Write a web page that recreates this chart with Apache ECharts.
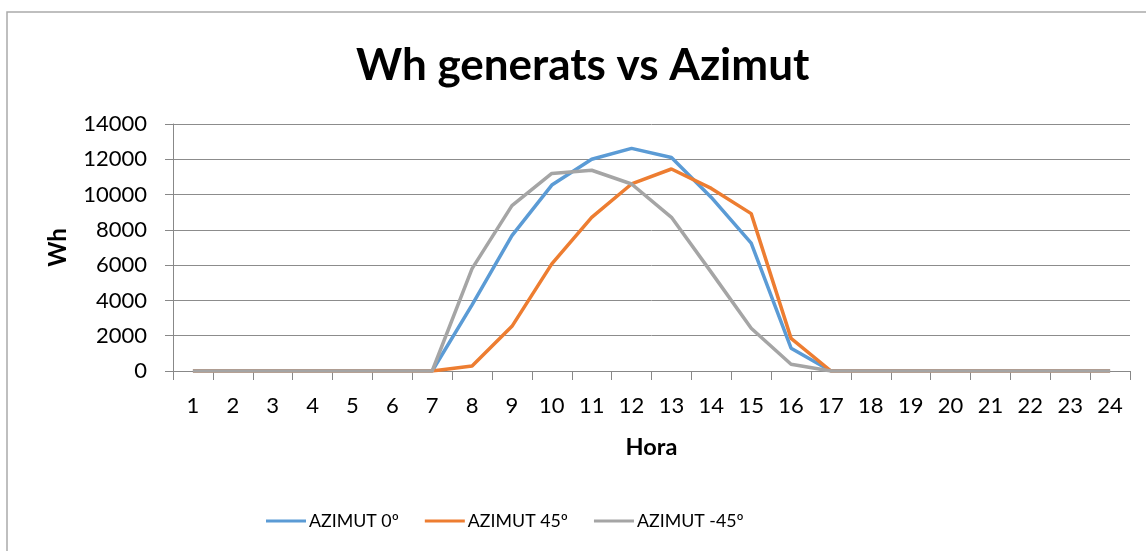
<!DOCTYPE html>
<html>
<head>
<meta charset="utf-8">
<script src="https://cdn.jsdelivr.net/npm/echarts@6/dist/echarts.min.js"></script>
<style>html,body{margin:0;padding:0;background:#fff}#c{width:1146px;height:551px}</style>
</head>
<body>
<div id="c"></div>
<script>
const hours = ['1','2','3','4','5','6','7','8','9','10','11','12','13','14','15','16','17','18','19','20','21','22','23','24'];
const azimut0 =  [0,0,0,0,0,0,0,3750,7670,10540,12000,12620,12100,9840,7250,1290,0,0,0,0,0,0,0,0];
const azimut45 = [0,0,0,0,0,0,0,280,2530,6070,8710,10600,11450,10350,8920,1850,0,0,0,0,0,0,0,0];
const azimutM45 =[0,0,0,0,0,0,0,5800,9370,11200,11380,10600,8710,5590,2420,380,0,0,0,0,0,0,0,0];
const seriesNames = ['AZIMUT 0º','AZIMUT 45º','AZIMUT -45º'];
const colors = ['#5B9BD5','#ED7D31','#A5A5A5'];
const F = 'Lato, "Open Sans", sans-serif';
const chart = echarts.init(document.getElementById('c'));
const mk = (name, data, color) => ({
  name, type:'line', data, symbol:'none', showSymbol:false,
  lineStyle:{color, width:3.5}, itemStyle:{color}, animation:false
});
chart.setOption({
  animation:false,
  title:{text:'Wh generats vs Azimut', left:351, top:39,
    textStyle:{fontFamily:F, fontSize:44, fontWeight:'bold', color:'#000'}},
  graphic:[{type:'rect', shape:{x:7,y:12,width:1300,height:700},
    style:{fill:'none', stroke:'#ABABAB', lineWidth:1.5}, silent:true}],
  legend:{top:507, left:261, itemWidth:40, itemHeight:3, itemGap:26,
    icon:'rect',
    textStyle:{fontFamily:F, fontSize:17.8, color:'#000', padding:[0,0,0,-2]},
    data:seriesNames},
  grid:{left:173, right:16, top:124, height:247, containLabel:false},
  xAxis:{type:'category', data:hours, boundaryGap:true,
    name:'Hora', nameLocation:'middle', nameGap:64,
    nameTextStyle:{fontFamily:F, fontSize:23.5, fontWeight:'bold', color:'#000'},
    axisLine:{lineStyle:{color:'#888', width:1}},
    axisTick:{show:true, alignWithLabel:false, length:9, lineStyle:{color:'#888'}},
    axisLabel:{fontFamily:F, fontSize:22, color:'#000', margin:24}},
  yAxis:{type:'value', min:0, max:14000, interval:2000,
    name:'Wh', nameLocation:'middle', nameGap:103, nameRotate:90,
    nameTextStyle:{fontFamily:F, fontSize:24, fontWeight:'bold', color:'#000'},
    axisLine:{show:true, lineStyle:{color:'#888', width:1}},
    axisTick:{show:true, length:8, lineStyle:{color:'#888'}},
    axisLabel:{fontFamily:F, fontSize:22, color:'#000', margin:26, formatter:v=>String(v)},
    splitLine:{lineStyle:{color:'#8c8c8c', width:1}}},
  series:[mk(seriesNames[0],azimut0,colors[0]), mk(seriesNames[1],azimut45,colors[1]), mk(seriesNames[2],azimutM45,colors[2])]
});
</script>
</body>
</html>
